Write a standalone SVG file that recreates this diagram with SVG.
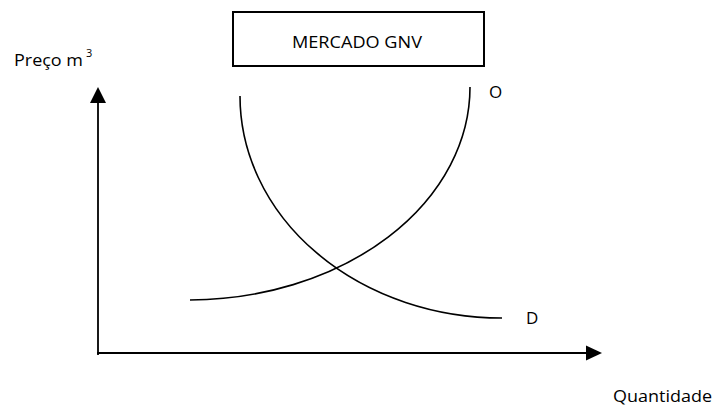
<svg xmlns="http://www.w3.org/2000/svg" width="727" height="407" viewBox="0 0 727 407">
<style>
text{font-family:"Open Sans","Liberation Sans",Arial,sans-serif;fill:#000;font-size:17px}
.ln{fill:none;stroke:#000;stroke-width:1.8}
.cv{fill:none;stroke:#000;stroke-width:1.6}
.ah{fill:#000;stroke:none}
</style>
<rect width="727" height="407" fill="#fff"/>
<g id="title">
<rect x="233" y="12" width="251" height="54" fill="#fff" stroke="#000" stroke-width="2"/>
<text x="292" y="48" textLength="130" lengthAdjust="spacingAndGlyphs">MERCADO GNV</text>
</g>
<g id="axes">
<line class="ln" x1="98" y1="355" x2="98" y2="101"/>
<polygon class="ah" points="98,87 90,103 106,103"/>
<line class="ln" x1="97" y1="353" x2="588" y2="353"/>
<polygon class="ah" points="602,353 586,345.5 586,360.5"/>
</g>
<g id="connectors">
<path id="supply" class="cv" d="M190,300 A282,213 0 0 0 470,87"/>
<path id="demand" class="cv" d="M240,96 A262,222 0 0 0 502,318"/>
</g>
<g id="labels">
<text x="14" y="66" textLength="69" lengthAdjust="spacingAndGlyphs">Preço m</text>
<text x="86" y="57" style="font-size:11px">3</text>
<text x="489" y="98">O</text>
<text x="526" y="324">D</text>
<text x="613" y="402" textLength="99" lengthAdjust="spacingAndGlyphs">Quantidade</text>
</g>
</svg>
